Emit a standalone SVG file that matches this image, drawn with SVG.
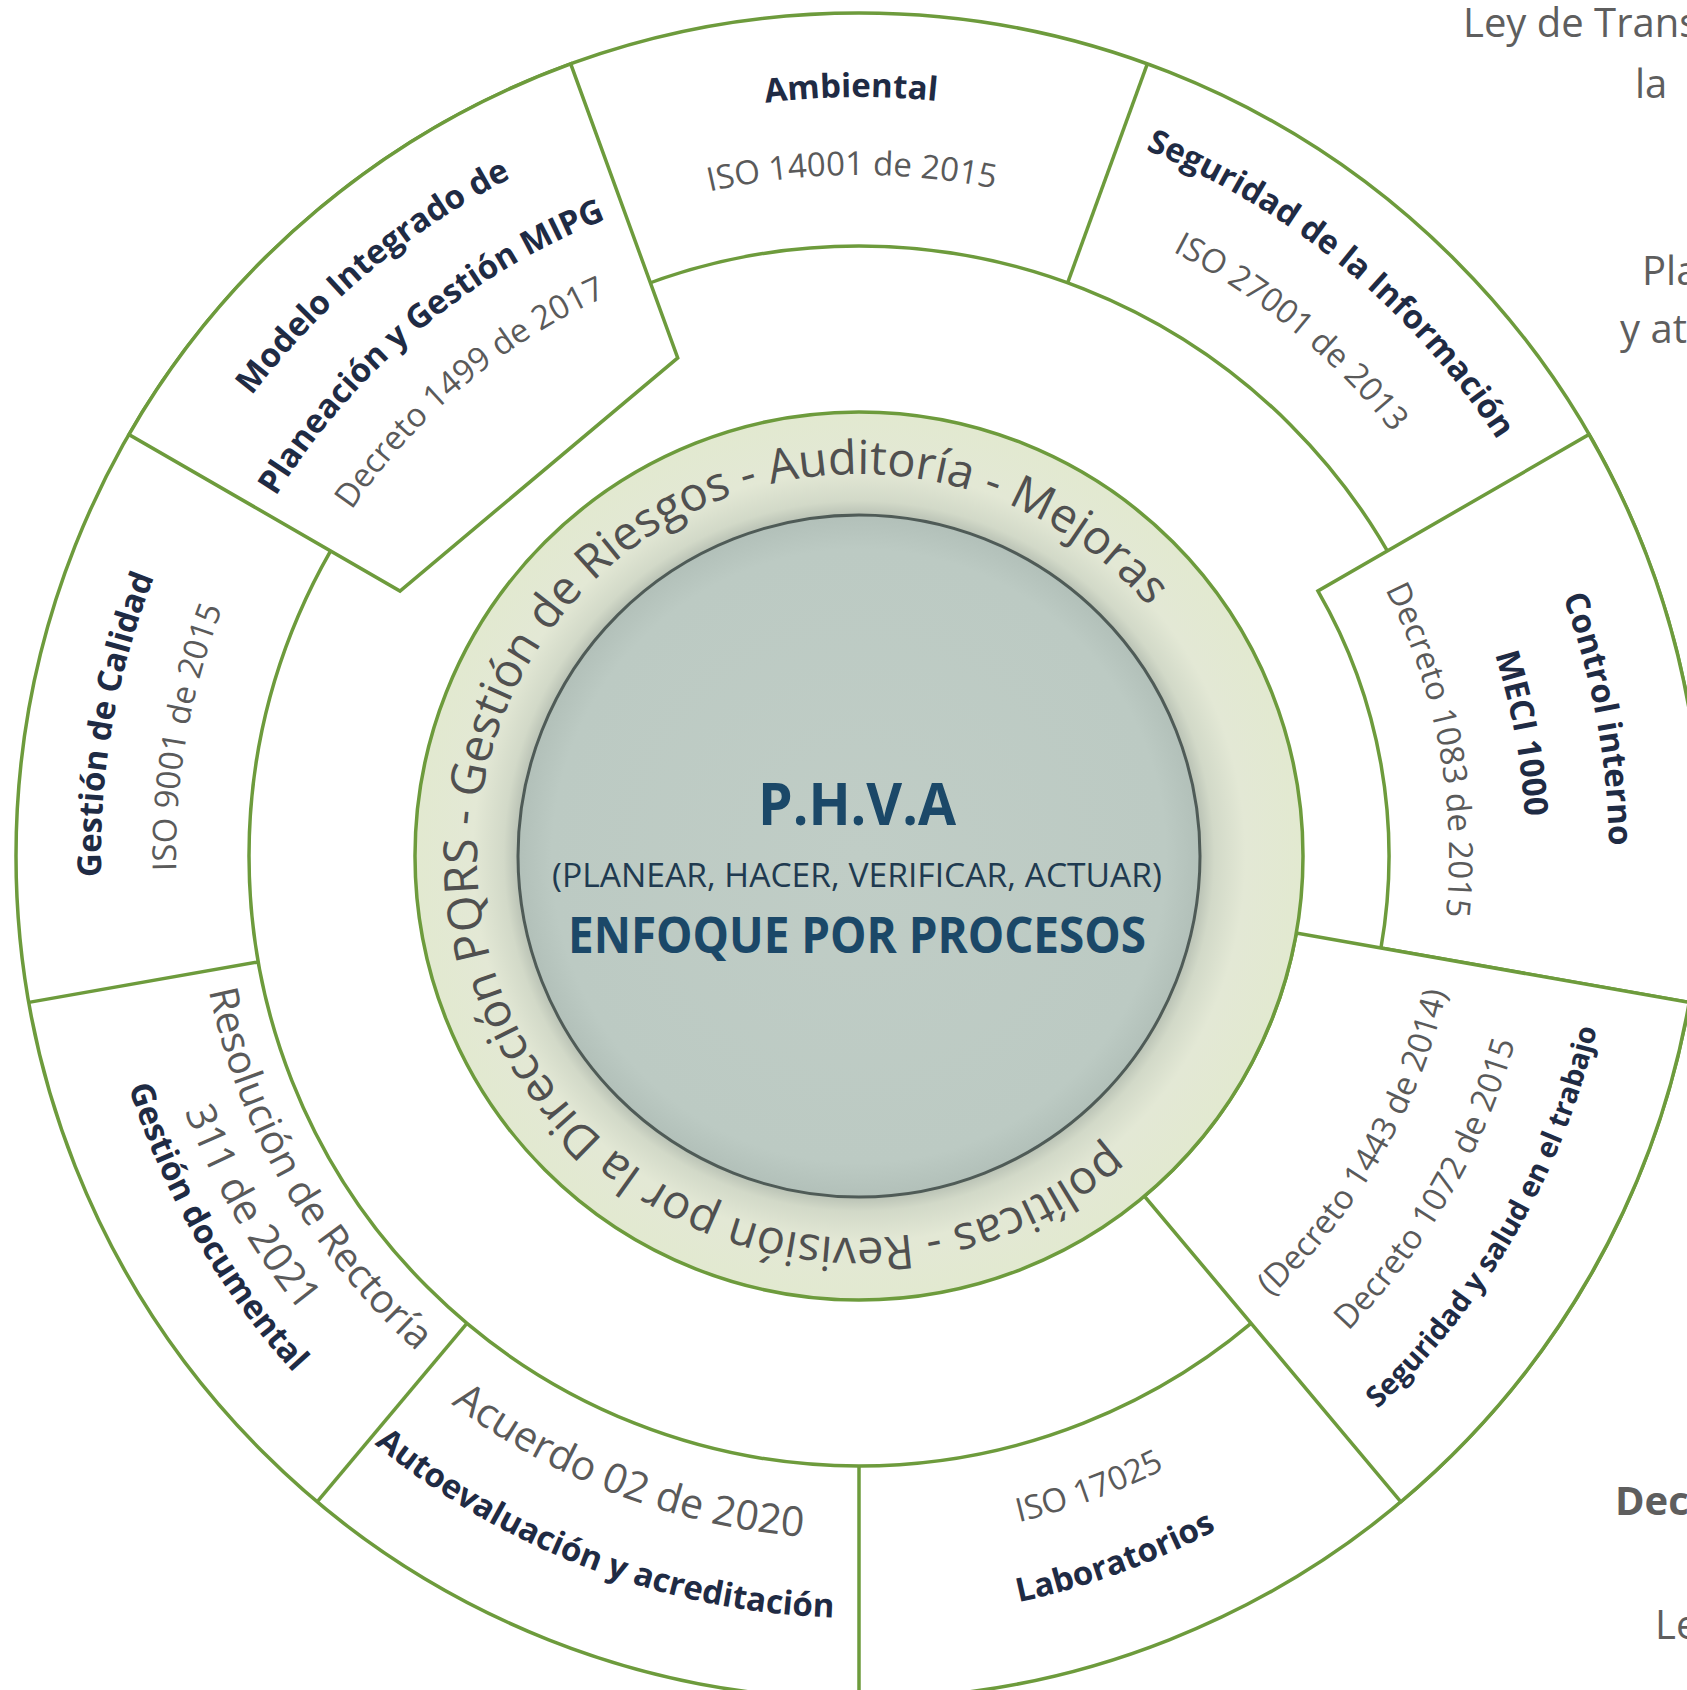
<svg xmlns="http://www.w3.org/2000/svg" xmlns:xlink="http://www.w3.org/1999/xlink" width="1687" height="1690" viewBox="0 0 1687 1690">
<style>
text { font-family: "Open Sans", "Liberation Sans", sans-serif; }
.ln { fill: none; stroke: #6d9b3c; stroke-width: 3.5; }
.box { fill: #ffffff; stroke: #6d9b3c; stroke-width: 3.5; stroke-linejoin: miter; }
.ti { font-weight: 700; fill: #1f2b44; font-size: 33px; }
.gr { fill: #5a5a5a; font-size: 33px; }
.gl { fill: #5a5a5a; font-size: 41px; }
.band { fill: #505050; font-size: 47px; }
.edge { fill: #5e5e5e; font-size: 40px; }
.ctr { fill: #1b4868; font-weight: 700; }
</style>
<defs>
<radialGradient id="bandGrad" gradientUnits="userSpaceOnUse" cx="859" cy="856" r="444">
<stop offset="0.76" stop-color="#b3bcb0"/>
<stop offset="0.80" stop-color="#d2d9c8"/>
<stop offset="0.87" stop-color="#e3e8d5"/>
<stop offset="1" stop-color="#e2e9d0"/>
</radialGradient>
<radialGradient id="coreGrad" gradientUnits="userSpaceOnUse" cx="859" cy="856" r="341">
<stop offset="0" stop-color="#c0cdc6"/>
<stop offset="0.9" stop-color="#bccac3"/>
<stop offset="1" stop-color="#b2c0b9"/>
</radialGradient>
<path id="cw759" d="M -657.31 -379.5 A 759 759 0 0 1 657.31 -379.5"/>
<path id="cw681" d="M -589.77 -340.5 A 681 681 0 0 1 589.77 -340.5"/>
<path id="cw762" d="M -659.91 -381 A 762 762 0 0 1 659.91 -381"/>
<path id="cw685" d="M -593.23 -342.5 A 685 685 0 0 1 593.23 -342.5"/>
<path id="cw614" d="M -531.74 -307 A 614 614 0 0 1 531.74 -307"/>
<path id="cw758" d="M -656.45 -379 A 758 758 0 0 1 656.45 -379"/>
<path id="cw683" d="M -591.50 -341.5 A 683 683 0 0 1 591.50 -341.5"/>
<path id="cw750" d="M -649.52 -375 A 750 750 0 0 1 649.52 -375"/>
<path id="cw667" d="M -577.64 -333.5 A 667 667 0 0 1 577.64 -333.5"/>
<path id="cw590" d="M -510.96 -295 A 590 590 0 0 1 510.96 -295"/>
<path id="cc758" d="M -656.45 379 A 758 758 0 0 0 656.45 379"/>
<path id="cc682" d="M -590.63 341 A 682 682 0 0 0 590.63 341"/>
<path id="cc603" d="M -522.22 301.5 A 603 603 0 0 0 522.22 301.5"/>
<path id="cc763" d="M -660.78 381.5 A 763 763 0 0 0 660.78 381.5"/>
<path id="cc685" d="M -593.23 342.5 A 685 685 0 0 0 593.23 342.5"/>
<path id="cc762" d="M -659.91 381 A 762 762 0 0 0 659.91 381"/>
<path id="cc683" d="M -591.50 341.5 A 683 683 0 0 0 591.50 341.5"/>
<path id="cc766" d="M -663.38 383 A 766 766 0 0 0 663.38 383"/>
<path id="cc721" d="M -624.41 360.5 A 721 721 0 0 0 624.41 360.5"/>
<path id="cc664" d="M -575.04 332 A 664 664 0 0 0 575.04 332"/>
<path id="bandPath" d="M 250.61 288.30 A 382 382 0 1 1 358.96 -130.65"/>
</defs>
<rect x="0" y="0" width="1687" height="1690" fill="#ffffff"/>

<g id="rings">
<circle cx="859" cy="856" r="843" fill="#ffffff" stroke="#6d9b3c" stroke-width="3.5"/>
<circle class="ln" cx="859" cy="856" r="610"/>
</g>

<g id="connectors">
<line class="ln" x1="1067.63" y1="282.79" x2="1147.32" y2="63.84"/>
<line class="ln" x1="859" y1="1466" x2="859" y2="1699"/>
<line class="ln" x1="466.90" y1="1323.28" x2="317.13" y2="1501.77"/>
<line class="ln" x1="258.27" y1="961.93" x2="28.81" y2="1002.39"/>
</g>

<g id="node-mipg">
<path class="box" d="M 128.94 434.5 A 843 843 0 0 1 570.68 63.84 L 677.73 357.96 L 400 591 Z"/>
<g transform="translate(859 856) rotate(-40)">
<text class="ti"><textPath xlink:href="#cw762" href="#cw762" startOffset="50%" text-anchor="middle">Modelo Integrado de</textPath></text>
<text class="ti"><textPath xlink:href="#cw685" href="#cw685" startOffset="50%" text-anchor="middle">Planeación y Gestión MIPG</textPath></text>
<text class="gr"><textPath xlink:href="#cw614" href="#cw614" startOffset="50%" text-anchor="middle">Decreto 1499 de 2017</textPath></text>
</g>
</g>

<g id="node-control">
<path class="box" d="M 1589.06 434.5 A 843 843 0 0 1 1689.19 1002.39 L 1380.95 948.03 A 530 530 0 0 0 1318 591 Z"/>
<g transform="translate(859 856) rotate(79.5)">
<text class="ti"><textPath xlink:href="#cw750" href="#cw750" startOffset="50%" text-anchor="middle">Control interno</textPath></text>
<text class="ti"><textPath xlink:href="#cw667" href="#cw667" startOffset="50%" text-anchor="middle">MECI 1000</textPath></text>
<text class="gr"><textPath xlink:href="#cw590" href="#cw590" startOffset="50%" text-anchor="middle">Decreto 1083 de 2015</textPath></text>
</g>
</g>

<g id="node-sst">
<path class="box" d="M 1689.19 1002.39 A 843 843 0 0 1 1400.87 1501.77 L 1144.40 1196.12 A 444 444 0 0 0 1296.25 933.10 Z"/>
<g transform="translate(859 856) rotate(-60)">
<text class="ti" style="font-size:29px"><textPath xlink:href="#cc758" href="#cc758" startOffset="50%" text-anchor="middle">Seguridad y salud en el trabajo</textPath></text>
<text class="gr"><textPath xlink:href="#cc682" href="#cc682" startOffset="50%" text-anchor="middle">Decreto 1072 de 2015</textPath></text>
<text class="gr"><textPath xlink:href="#cc603" href="#cc603" startOffset="50%" text-anchor="middle">(Decreto 1443 de 2014)</textPath></text>
</g>
</g>

<g id="node-ambiental" transform="translate(859 856) rotate(-0.6)">
<text class="ti"><textPath xlink:href="#cw759" href="#cw759" startOffset="50%" text-anchor="middle">Ambiental</textPath></text>
<text class="gr"><textPath xlink:href="#cw681" href="#cw681" startOffset="50%" text-anchor="middle">ISO 14001 de 2015</textPath></text>
</g>

<g id="node-seguridad-info" transform="translate(859 856) rotate(39.5)">
<text class="ti"><textPath xlink:href="#cw762" href="#cw762" startOffset="50%" text-anchor="middle">Seguridad de la Información</textPath></text>
<text class="gr"><textPath xlink:href="#cw681" href="#cw681" startOffset="50%" text-anchor="middle">ISO 27001 de 2013</textPath></text>
</g>

<g id="node-calidad" transform="translate(859 856) rotate(-80)">
<text class="ti"><textPath xlink:href="#cw758" href="#cw758" startOffset="50%" text-anchor="middle">Gestión de Calidad</textPath></text>
<text class="gr"><textPath xlink:href="#cw683" href="#cw683" startOffset="50%" text-anchor="middle">ISO 9001 de 2015</textPath></text>
</g>

<g id="node-laboratorios" transform="translate(859 856) rotate(-20)">
<text class="ti"><textPath xlink:href="#cc763" href="#cc763" startOffset="50%" text-anchor="middle">Laboratorios</textPath></text>
<text class="gr"><textPath xlink:href="#cc685" href="#cc685" startOffset="50%" text-anchor="middle">ISO 17025</textPath></text>
</g>

<g id="node-autoevaluacion" transform="translate(859 856) rotate(20.7)">
<text class="ti"><textPath xlink:href="#cc762" href="#cc762" startOffset="50%" text-anchor="middle">Autoevaluación y acreditación</textPath></text>
<text class="gl"><textPath xlink:href="#cc683" href="#cc683" startOffset="50%" text-anchor="middle">Acuerdo 02 de 2020</textPath></text>
</g>

<g id="node-gestion-documental" transform="translate(859 856) rotate(60)">
<text class="ti"><textPath xlink:href="#cc766" href="#cc766" startOffset="50%" text-anchor="middle">Gestión documental</textPath></text>
<text class="gl"><textPath xlink:href="#cc721" href="#cc721" startOffset="50%" text-anchor="middle">311 de 2021</textPath></text>
<text class="gl" style="font-size:40px"><textPath xlink:href="#cc664" href="#cc664" startOffset="50%" text-anchor="middle">Resolución de Rectoría</textPath></text>
</g>

<g id="node-pqrs-band">
<circle cx="859" cy="856" r="444" fill="url(#bandGrad)" stroke="#6d9b3c" stroke-width="3.5"/>
<g transform="translate(859 856)">
<text class="band"><textPath xlink:href="#bandPath" href="#bandPath" startOffset="0">políticas - Revisión por la Dirección PQRS - Gestión de Riesgos - Auditoría - Mejoras</textPath></text>
</g>
</g>

<g id="node-phva">
<circle cx="859" cy="856" r="341" fill="url(#coreGrad)" stroke="#4f5b57" stroke-width="3"/>
<text class="ctr" x="857" y="825" font-size="59" text-anchor="middle" textLength="198" lengthAdjust="spacingAndGlyphs">P.H.V.A</text>
<text x="857" y="887" font-size="32" fill="#203a50" text-anchor="middle" textLength="610" lengthAdjust="spacingAndGlyphs">(PLANEAR, HACER, VERIFICAR, ACTUAR)</text>
<text class="ctr" x="857" y="953" font-size="50" text-anchor="middle" textLength="578" lengthAdjust="spacingAndGlyphs">ENFOQUE POR PROCESOS</text>
</g>

<g id="edge-texts">
<text class="edge" x="1463" y="37">Ley de Trans</text>
<text class="edge" x="1635" y="98">la</text>
<text class="edge" x="1642" y="285">Pla</text>
<text class="edge" x="1620" y="343">y at</text>
<text class="edge" x="1615" y="1515" font-weight="700">Dec</text>
<text class="edge" x="1655" y="1639">Le</text>
</g>
</svg>
